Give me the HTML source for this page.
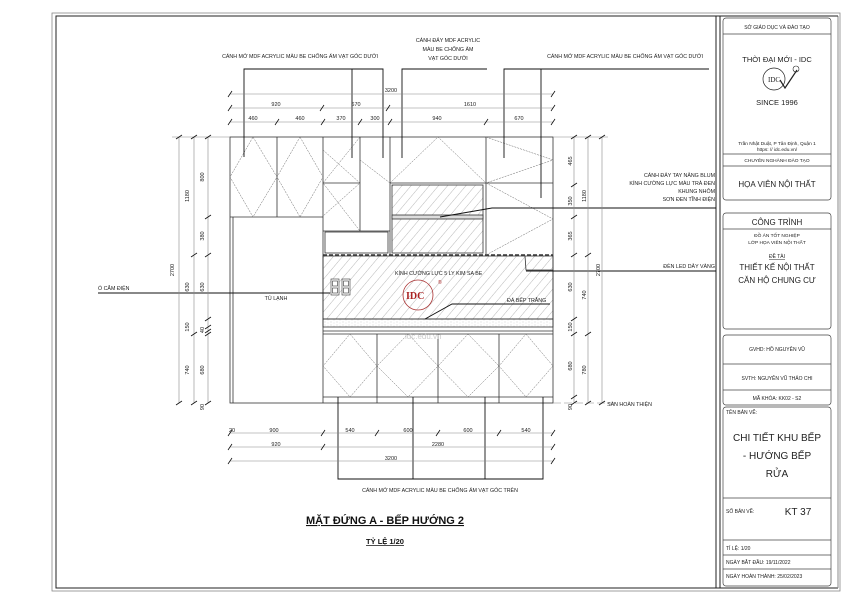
<!DOCTYPE html>
<html><head><meta charset="utf-8"><style>
html,body{margin:0;padding:0;background:#fff;}
svg{display:block;font-family:"Liberation Sans",sans-serif;}
</style></head><body>
<svg width="850" height="601" viewBox="0 0 850 601" xmlns="http://www.w3.org/2000/svg">
<defs>
<pattern id="h" width="7" height="7" patternUnits="userSpaceOnUse" patternTransform="rotate(40)">
<line x1="0" y1="0" x2="0" y2="7" stroke="#888" stroke-width="0.6"/></pattern>
<pattern id="d" width="6" height="3" patternUnits="userSpaceOnUse">
<circle cx="1" cy="1" r="0.4" fill="#999"/><circle cx="4" cy="2" r="0.4" fill="#bbb"/></pattern>
</defs>
<rect width="850" height="601" fill="#fff"/>
<!-- frame -->
<rect x="52" y="13" width="788" height="578" fill="none" stroke="#888" stroke-width="0.8"/>
<rect x="56" y="16" width="660" height="572" fill="none" stroke="#222" stroke-width="1"/>
<line x1="720" y1="16" x2="720" y2="588" stroke="#222"/>
<line x1="716" y1="588" x2="838" y2="588" stroke="#222"/>
<line x1="838" y1="16" x2="838" y2="588" stroke="#888"/>
<line x1="716" y1="16" x2="838" y2="16" stroke="#222"/>

<g fill="none" stroke="#333" stroke-width="0.8">
<rect x="230" y="137" width="323" height="266"/>
<line x1="233" y1="217" x2="233" y2="403"/>
<line x1="230" y1="217" x2="323" y2="217"/>
<line x1="277" y1="137" x2="277" y2="217"/>
<line x1="323" y1="137" x2="323" y2="403"/>
<line x1="390" y1="137" x2="390" y2="255"/>
<line x1="486" y1="137" x2="486" y2="255"/>
<line x1="323" y1="231" x2="390" y2="231"/>
<line x1="323" y1="183" x2="360" y2="183"/>
<line x1="360" y1="137" x2="360" y2="231"/>
<rect x="325" y="232" width="63" height="21"/>
<line x1="390" y1="183" x2="553" y2="183"/>
<rect x="392" y="185" width="91" height="68" fill="url(#h)"/>
<rect x="392" y="215" width="91" height="4" fill="#ddd"/>
<line x1="323" y1="255" x2="553" y2="255" stroke-dasharray="4,2" stroke-width="1.4"/>
<rect x="323" y="256" width="230" height="63" fill="url(#h)" stroke="#333"/>
<rect x="323" y="319" width="230" height="8" fill="url(#d)"/>
<line x1="323" y1="331" x2="553" y2="331"/>
<line x1="323" y1="334" x2="553" y2="334"/>
<line x1="377" y1="334" x2="377" y2="403"/>
<line x1="438" y1="334" x2="438" y2="403"/>
<line x1="499" y1="334" x2="499" y2="403"/>
<line x1="323" y1="397" x2="553" y2="397"/>
<polyline points="525,256 526,270 553,270"/>
</g>
<g fill="none" stroke="#666" stroke-width="0.5" stroke-dasharray="2,1">
<polygon points="253,137 277,177 253,217 230,177"/>
<polygon points="300,137 323,177 300,217 277,177"/>
<polyline points="323,150 360,183 323,216"/>
<polyline points="360,137 323,183 360,231"/>
<polyline points="390,183 438,137 486,183"/>
<polyline points="486,137 553,160 486,183"/>
<polyline points="486,183 553,219 486,255"/>
<polyline points="390,183 360,160"/>
<polygon points="350,334 377,366 350,397 323,366"/>
<polygon points="408,334 438,366 408,397 377,366"/>
<polygon points="468,334 499,366 468,397 438,366"/>
<polygon points="526,334 553,366 526,397 499,366"/>
</g>
<g fill="#fff" stroke="#333" stroke-width="0.6">
<rect x="331" y="279" width="8" height="16"/><rect x="342" y="279" width="8" height="16"/>
<rect x="332.5" y="281" width="5" height="5"/><rect x="332.5" y="288" width="5" height="5"/>
<rect x="343.5" y="281" width="5" height="5"/><rect x="343.5" y="288" width="5" height="5"/>
</g>
<circle cx="418" cy="295" r="15" fill="none" stroke="#a33" stroke-width="0.8"/>
<text x="406" y="299" font-size="10" font-weight="bold" fill="#a22" font-family="Liberation Serif,serif">IDC</text>
<text x="438" y="284" font-size="5" fill="#a22">®</text>
<text x="405" y="339" font-size="8" fill="#ccc">idc.edu.vn</text>

<g fill="none" stroke="#111" stroke-width="0.9">
<polyline points="244,157 244,69 383,69 383,158"/><line x1="352" y1="69" x2="352" y2="158"/>
<polyline points="402,158 402,69 487,69"/>
<polyline points="504,158 504,69 709,69"/><line x1="541" y1="69" x2="541" y2="198"/>
<polyline points="440,217 492,208 716,208"/>
<line x1="526" y1="271" x2="716" y2="271"/>
<line x1="98" y1="293" x2="330" y2="293"/>
<polyline points="425,319 452,304 550,304"/>
<polyline points="338,397 338,479 543,479 543,397"/>
<line x1="413" y1="397" x2="413" y2="479"/><line x1="485" y1="397" x2="485" y2="479"/>
</g>
<line x1="553" y1="403" x2="620" y2="403" stroke="#888" stroke-width="0.6" stroke-dasharray="8,3"/>

<g stroke="#888" stroke-width="0.6" fill="none">
<line x1="230" y1="94" x2="553" y2="94"/><line x1="230" y1="108" x2="553" y2="108"/><line x1="230" y1="122" x2="553" y2="122"/>
<line x1="179" y1="137" x2="179" y2="403"/><line x1="194" y1="137" x2="194" y2="403"/><line x1="208" y1="137" x2="208" y2="403"/>
<line x1="574" y1="137" x2="574" y2="403"/><line x1="588" y1="137" x2="588" y2="403"/><line x1="602" y1="137" x2="602" y2="403"/>
<line x1="230" y1="433" x2="553" y2="433"/><line x1="230" y1="447" x2="553" y2="447"/><line x1="230" y1="461" x2="553" y2="461"/>
<line x1="172" y1="137" x2="230" y2="137"/><line x1="553" y1="137" x2="608" y2="137"/>
</g>
<g stroke="#111" stroke-width="0.8">
<path d="M228,97l4,-6M551,97l4,-6M228,111l4,-6M320,111l4,-6M386,111l4,-6M551,111l4,-6M228,125l4,-6M275,125l4,-6M321,125l4,-6M358,125l4,-6M388,125l4,-6M484,125l4,-6M551,125l4,-6"/>
<path d="M176,139l6,-4M191,139l6,-4M205,139l6,-4M191,257l6,-4M205,219l6,-4M205,257l6,-4M205,321l6,-4M176,405l6,-4M191,405l6,-4M205,405l6,-4M191,336l6,-4M205,336l6,-4M205,329l6,-4M205,333l6,-4"/>
<path d="M571,139l6,-4M585,139l6,-4M599,139l6,-4M571,187l6,-4M571,219l6,-4M571,257l6,-4M585,257l6,-4M571,321l6,-4M571,336l6,-4M585,336l6,-4M571,399l6,-4M571,405l6,-4M585,405l6,-4M599,405l6,-4"/>
<path d="M228,436l4,-6M321,436l4,-6M375,436l4,-6M436,436l4,-6M497,436l4,-6M551,436l4,-6M228,450l4,-6M321,450l4,-6M551,450l4,-6M228,464l4,-6M551,464l4,-6"/>
</g>
<g font-size="5.5" fill="#222" text-anchor="middle">
<text x="391" y="92">3200</text>
<text x="276" y="106">920</text><text x="356" y="106">670</text><text x="470" y="106">1610</text>
<text x="253" y="120">460</text><text x="300" y="120">460</text><text x="341" y="120">370</text><text x="375" y="120">300</text><text x="437" y="120">940</text><text x="519" y="120">670</text>
<text x="274" y="432">900</text><text x="350" y="432">540</text><text x="408" y="432">600</text><text x="468" y="432">600</text><text x="526" y="432">540</text><text x="232" y="432">20</text>
<text x="276" y="446">920</text><text x="438" y="446">2280</text><text x="391" y="460">3200</text>
<text x="174" y="270" transform="rotate(-90 174 270)">2700</text>
<text x="189" y="196" transform="rotate(-90 189 196)">1180</text>
<text x="189" y="287" transform="rotate(-90 189 287)">630</text>
<text x="189" y="327" transform="rotate(-90 189 327)">150</text>
<text x="189" y="370" transform="rotate(-90 189 370)">740</text>
<text x="204" y="177" transform="rotate(-90 204 177)">800</text>
<text x="204" y="236" transform="rotate(-90 204 236)">380</text>
<text x="204" y="287" transform="rotate(-90 204 287)">630</text>
<text x="204" y="330" transform="rotate(-90 204 330)">40</text>
<text x="204" y="370" transform="rotate(-90 204 370)">680</text>
<text x="204" y="407" transform="rotate(-90 204 407)">90</text>
<text x="572" y="161" transform="rotate(-90 572 161)">465</text>
<text x="572" y="201" transform="rotate(-90 572 201)">350</text>
<text x="572" y="236" transform="rotate(-90 572 236)">365</text>
<text x="572" y="287" transform="rotate(-90 572 287)">630</text>
<text x="572" y="327" transform="rotate(-90 572 327)">150</text>
<text x="572" y="366" transform="rotate(-90 572 366)">680</text>
<text x="572" y="407" transform="rotate(-90 572 407)">90</text>
<text x="586" y="196" transform="rotate(-90 586 196)">1180</text>
<text x="586" y="295" transform="rotate(-90 586 295)">740</text>
<text x="586" y="370" transform="rotate(-90 586 370)">780</text>
<text x="600" y="270" transform="rotate(-90 600 270)">2700</text>
</g>
<g font-size="5.3" fill="#222">
<text x="300" y="58" text-anchor="middle">CÁNH MỞ MDF ACRYLIC MÀU BE CHỐNG ẨM VẠT GÓC DƯỚI</text>
<text x="448" y="42" text-anchor="middle">CÁNH ĐẨY MDF ACRYLIC</text>
<text x="448" y="51" text-anchor="middle">MÀU BE CHỐNG ẨM</text>
<text x="448" y="60" text-anchor="middle">VẠT GÓC DƯỚI</text>
<text x="625" y="58" text-anchor="middle">CÁNH MỞ MDF ACRYLIC MÀU BE CHỐNG ẨM VẠT GÓC DƯỚI</text>
<text x="715" y="177" text-anchor="end">CÁNH ĐẨY TAY NÂNG BLUM</text>
<text x="715" y="185" text-anchor="end">KÍNH CƯỜNG LỰC MÀU TRÀ ĐEN</text>
<text x="715" y="193" text-anchor="end">KHUNG NHÔM</text>
<text x="715" y="201" text-anchor="end">SƠN ĐEN TĨNH ĐIỆN</text>
<text x="715" y="268" text-anchor="end">ĐÈN LED DÂY VÀNG</text>
<text x="652" y="406" text-anchor="end">SÀN HOÀN THIỆN</text>
<text x="98" y="290">Ổ CẮM ĐIỆN</text>
<text x="276" y="300" text-anchor="middle">TỦ LẠNH</text>
<text x="395" y="275">KÍNH CƯỜNG LỰC 5 LY KIM SA BE</text>
<text x="507" y="302">ĐÁ BẾP TRẮNG</text>
<text x="440" y="492" text-anchor="middle">CÁNH MỞ MDF ACRYLIC MÀU BE CHỐNG ẨM VẠT GÓC TRÊN</text>
</g>
<text x="385" y="524" font-size="11" font-weight="bold" text-anchor="middle" text-decoration="underline" fill="#111">MẶT ĐỨNG A - BẾP HƯỚNG 2</text>
<text x="385" y="544" font-size="7.5" font-weight="bold" text-anchor="middle" text-decoration="underline" fill="#111">TỶ LỆ 1/20</text>

<g fill="none" stroke="#444" stroke-width="0.7">
<rect x="723" y="18" width="108" height="182" rx="3"/>
<rect x="723" y="213" width="108" height="116" rx="3"/>
<rect x="723" y="335" width="108" height="70" rx="3"/>
<rect x="723" y="407" width="108" height="179" rx="3"/>
<line x1="723" y1="34" x2="831" y2="34"/><line x1="723" y1="154" x2="831" y2="154"/><line x1="723" y1="166" x2="831" y2="166"/>
<line x1="723" y1="229" x2="831" y2="229"/>
<line x1="723" y1="364" x2="831" y2="364"/><line x1="723" y1="390" x2="831" y2="390"/>
<line x1="723" y1="498" x2="831" y2="498"/><line x1="723" y1="540" x2="831" y2="540"/><line x1="723" y1="555" x2="831" y2="555"/><line x1="723" y1="569" x2="831" y2="569"/>
<circle cx="774" cy="79" r="11" stroke="#222"/>
<path d="M780,80l5,8l12,-18" stroke="#222" stroke-width="1.2"/>
</g>
<circle cx="796" cy="69" r="3" fill="none" stroke="#222" stroke-width="0.6"/>
<text x="768" y="82" font-size="7" font-family="Liberation Serif,serif" fill="#222">IDC</text>
<g fill="#222" text-anchor="middle">
<text x="777" y="29" font-size="5">SỞ GIÁO DỤC VÀ ĐÀO TẠO</text>
<text x="777" y="62" font-size="7.5">THỜI ĐẠI MỚI - IDC</text>
<text x="777" y="105" font-size="7.5">SINCE 1996</text>
<text x="777" y="145" font-size="4.8">Trần Nhật Duật, P Tân Định, Quận 1</text>
<text x="777" y="151" font-size="4.8">https: // idc.edu.vn/</text>
<text x="777" y="162" font-size="4.8">CHUYÊN NGHÀNH ĐÀO TẠO</text>
<text x="777" y="187" font-size="8">HỌA VIÊN NỘI THẤT</text>
<text x="777" y="225" font-size="8">CÔNG TRÌNH</text>
<text x="777" y="237" font-size="4.8">ĐỒ ÁN TỐT NGHIỆP</text>
<text x="777" y="244" font-size="4.8">LỚP HỌA VIÊN NỘI THẤT</text>
<text x="777" y="258" font-size="5" text-decoration="underline">ĐỀ TÀI</text>
<text x="777" y="270" font-size="8">THIẾT KẾ NỘI THẤT</text>
<text x="777" y="283" font-size="8">CĂN HỘ CHUNG CƯ</text>
<text x="777" y="351" font-size="5">GVHD: HỒ NGUYÊN VŨ</text>
<text x="777" y="380" font-size="5">SVTH: NGUYỄN VŨ THẢO CHI</text>
<text x="777" y="400" font-size="5">MÃ KHÓA: KK02 - S2</text>
<text x="777" y="441" font-size="10">CHI TIẾT KHU BẾP</text>
<text x="777" y="459" font-size="10">- HƯỚNG BẾP</text>
<text x="777" y="477" font-size="10">RỬA</text>
<text x="798" y="515" font-size="10">KT 37</text>
</g>
<g fill="#222" font-size="5">
<text x="726" y="414">TÊN BẢN VẼ:</text>
<text x="726" y="513">SỐ BẢN VẼ:</text>
<text x="726" y="550">TỈ LỆ:    1/20</text>
<text x="726" y="564">NGÀY BẮT ĐẦU:  19/11/2022</text>
<text x="726" y="578">NGÀY HOÀN THÀNH:  25/02/2023</text>
</g>
</svg>
</body></html>
